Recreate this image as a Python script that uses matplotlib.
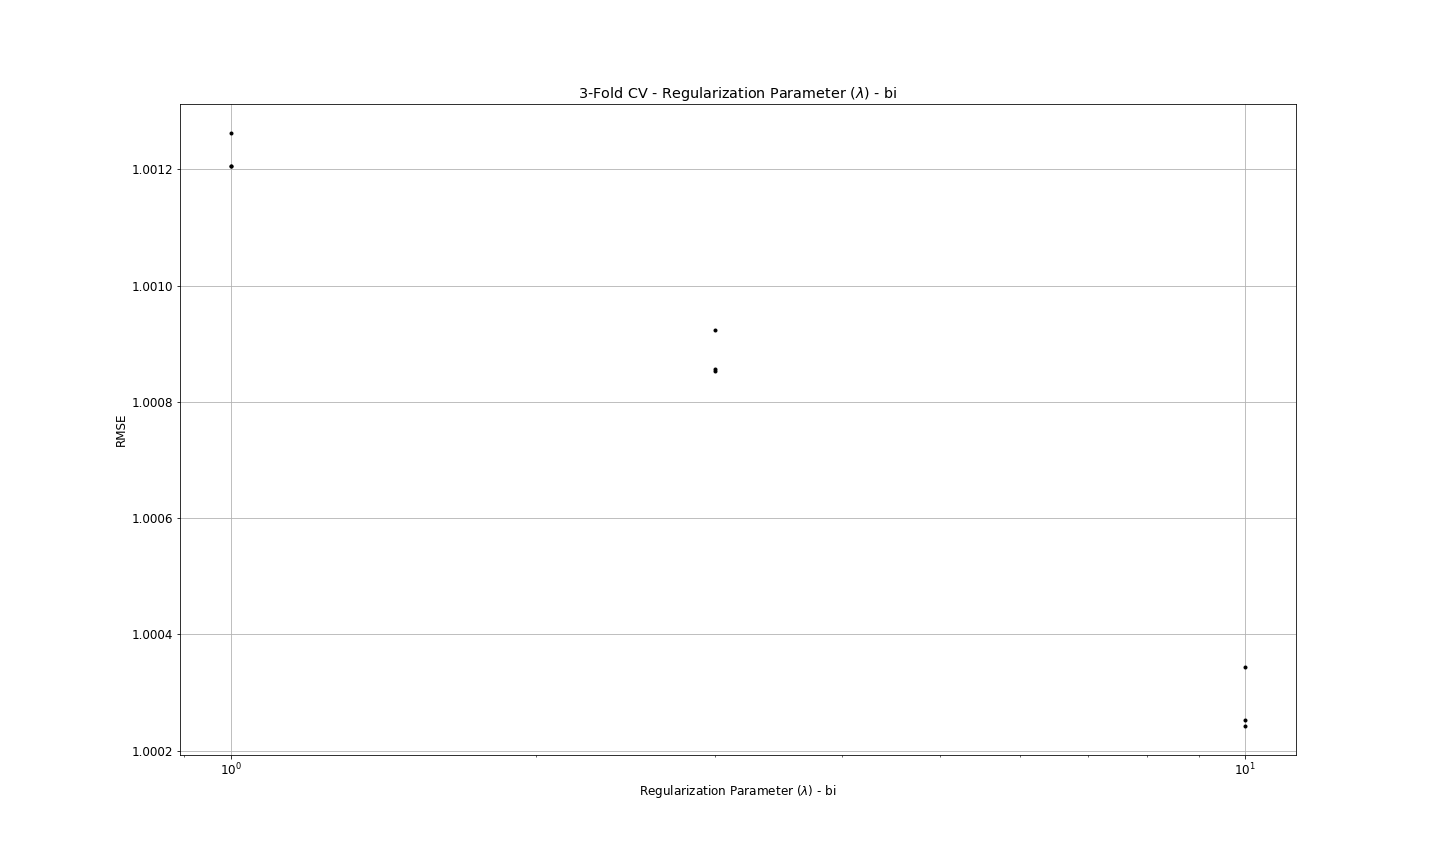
import matplotlib
matplotlib.use("Agg")
import numpy as np
import matplotlib.pyplot as plt

lambdas = [1, 1, 1, 3, 3, 3, 10, 10, 10]
rmse = [1.001262, 1.001206, 1.001205,
        1.000924, 1.000857, 1.000853,
        1.000343, 1.000253, 1.000243]

plt.rcParams['font.size'] = 12
fig = plt.figure(figsize=(20, 12), dpi=72)
fig.subplots_adjust(left=0.125, right=0.9, top=0.88, bottom=0.126)
ax = fig.add_subplot(111)
ax.plot(lambdas, rmse, 'k.')
ax.set_xscale('log')
ax.grid(True)
ax.set_title(r'3-Fold CV - Regularization Parameter ($\lambda$) - bi')
ax.set_xlabel(r'Regularization Parameter ($\lambda$) - bi')
ax.set_ylabel('RMSE')
fig.savefig("out.png", dpi=72)
